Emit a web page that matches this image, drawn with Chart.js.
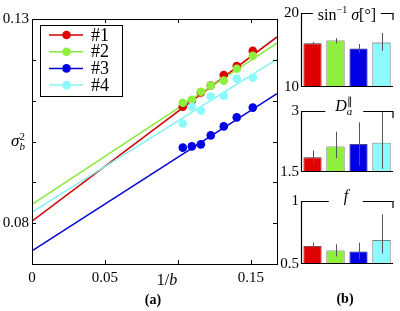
<!DOCTYPE html>
<html>
<head>
<meta charset="utf-8">
<script src="https://cdn.jsdelivr.net/npm/chart.js@4.4.1/dist/chart.umd.min.js"></script>
<style>
  body { margin: 0; background: #fff; width: 400px; height: 311px; overflow: hidden; position: relative; font-family: "Liberation Serif", serif; }
  .box { position: absolute; }
  .lbl { position: absolute; white-space: nowrap; transform: translate(-50%, -50%); line-height: 1; color: #000; }
  .ttl { background: #fff; font-size: 16px; }
  .stack { display: inline-block; vertical-align: middle; line-height: 0.9; font-size: 11px; text-align: left; }
</style>
</head>
<body>
<div class="box" style="left:0;top:0;width:290px;height:311px"><canvas id="main"></canvas></div>
<div class="box" style="left:280px;top:0;width:120px;height:100px"><canvas id="p1"></canvas></div>
<div class="box" style="left:280px;top:100px;width:120px;height:90px"><canvas id="p2"></canvas></div>
<div class="box" style="left:280px;top:190px;width:120px;height:121px"><canvas id="p3"></canvas></div>

<span class="lbl" style="left:18px;top:142px;font-size:17px"><i>σ</i><span class="stack">2<br><i>b</i></span></span>
<span class="lbl" style="left:167px;top:280px;font-size:16px">1/<i>b</i></span>
<span class="lbl" style="left:153px;top:300px;font-size:14px;font-weight:bold">(a)</span>
<span class="lbl" style="left:345px;top:299px;font-size:14px;font-weight:bold">(b)</span>
<span class="lbl ttl" style="left:347px;top:14px;padding:0 5px">sin<sup style="font-size:10px">−1</sup> <i>σ</i>[°]</span>
<span class="lbl ttl" style="left:344px;top:107px;padding:0 10px"><i>D</i><span class="stack">∥<br><i>a</i></span></span>
<span class="lbl ttl" style="left:346px;top:196px;padding:0 15px"><i>f</i></span>

<script>
// main panel: sigma_b^2 vs 1/b
const xVals = [0.1034, 0.1096, 0.1158, 0.1226, 0.1315, 0.1404, 0.1514];
const s1 = [0.1085, 0.1100, 0.1120, 0.1137, 0.1163, 0.1185, 0.1222];
const s2 = [0.1095, 0.1102, 0.1122, 0.1137, 0.1149, 0.1178, 0.1210];
const s3 = [0.0985, 0.0988, 0.0993, 0.1015, 0.1037, 0.1059, 0.1083];
const s4 = [0.1044, 0.1085, 0.1076, 0.1110, 0.1112, 0.1154, 0.1156];

// fitted lines, ends at x = 0 and x = 0.168
const fitX = [0, 0.168];
const fit1 = [0.0805, 0.1256];
const fit2 = [0.0846, 0.1241];
const fit3 = [0.0732, 0.1117];
const fit4 = [0.0827, 0.1202];

const names = ['#1', '#2', '#3', '#4'];
const xTickVals = [0, 0.05, 0.15];
const xTickText = ['0', '0.05', '0.15'];

// right panels
const sinVals = [15.9, 16.3, 15.2, 16.0];
const sinLo = [15.7, 15.9, 14.6, 14.9];
const sinHi = [16.1, 16.6, 15.8, 17.3];

const dVals = [1.86, 2.13, 2.19, 2.22];
const dLo = [1.69, 1.84, 1.65, 1.58];
const dHi = [2.03, 2.49, 2.72, 3.02];

const fVals = [0.643, 0.608, 0.600, 0.690];
const fLo = [0.620, 0.560, 0.536, 0.584];
const fHi = [0.669, 0.657, 0.669, 0.893];

const colors = ['#e00000', '#8ef03c', '#0000e6', '#8cfafa'];
const lineColors = ['#d40000', '#86e83a', '#0000dc', '#86f0f0'];
const font = { family: 'Liberation Serif', size: 15 };

const series = [s1, s2, s3, s4];
const fits = [fit1, fit2, fit3, fit4];

const frame = {
  id: 'frame',
  afterDraw(chart) {
    const { ctx, chartArea: a, scales } = chart;
    ctx.save();
    ctx.strokeStyle = '#000';
    ctx.lineWidth = 1;
    ctx.strokeRect(a.left + 0.5, a.top + 0.5, a.right - a.left, a.bottom - a.top);
    ctx.beginPath();
    [0, 0.05, 0.1, 0.15].forEach(v => {
      const px = Math.round(scales.x.getPixelForValue(v)) + 0.5;
      ctx.moveTo(px, a.bottom); ctx.lineTo(px, a.bottom - 4);
      ctx.moveTo(px, a.top); ctx.lineTo(px, a.top + 4);
    });
    scales.y.ticks.forEach(t => {
      const py = Math.round(scales.y.getPixelForValue(t.value)) + 0.5;
      ctx.moveTo(a.left, py); ctx.lineTo(a.left + 4, py);
      ctx.moveTo(a.right, py); ctx.lineTo(a.right - 4, py);
    });
    ctx.stroke();

    // legend box
    const lx = 40, ly = 25, lw = 82, lh = 71;
    ctx.fillStyle = '#fff';
    ctx.fillRect(lx, ly, lw, lh);
    ctx.strokeRect(lx + 0.5, ly + 0.5, lw, lh);
    ctx.font = '18px "Liberation Serif"';
    ctx.textBaseline = 'middle';
    names.forEach((n, i) => {
      const y = 35 + i * 16.7;
      ctx.strokeStyle = lineColors[i];
      ctx.lineWidth = 1.5;
      ctx.beginPath(); ctx.moveTo(49, y); ctx.lineTo(83, y); ctx.stroke();
      ctx.fillStyle = colors[i];
      ctx.beginPath(); ctx.arc(66.5, y, 4.3, 0, Math.PI * 2); ctx.fill();
      ctx.fillStyle = '#000';
      ctx.fillText(n, 91, y + 1);
    });
    ctx.restore();
  }
};

const datasets = [];
series.forEach((s, i) => {
  datasets.push({
    data: fitX.map((x, j) => ({ x, y: fits[i][j] })),
    showLine: true, borderColor: lineColors[i], borderWidth: 1.5,
    pointRadius: 0, order: 20 - i
  });
});
series.forEach((s, i) => {
  datasets.push({
    data: xVals.map((x, j) => ({ x, y: s[j] })),
    backgroundColor: colors[i], borderColor: colors[i], borderWidth: 0,
    pointRadius: 4.3, order: 10 - i
  });
});

new Chart(document.getElementById('main'), {
  type: 'scatter',
  data: { datasets },
  options: {
    responsive: true, maintainAspectRatio: false, animation: false,
    layout: { padding: { top: 19, right: 13, left: 0, bottom: 0 } },
    plugins: { legend: { display: false }, tooltip: { enabled: false } },
    scales: {
      x: {
        min: 0, max: 0.168,
        afterFit: s => { s.height = 47; },
        afterBuildTicks: s => { s.ticks = xTickVals.map(v => ({ value: v })); },
        grid: { display: false, drawTicks: false }, border: { display: false },
        ticks: {
          color: '#000', font, padding: 5, maxRotation: 0, autoSkip: false,
          callback: v => {
            const i = xTickVals.findIndex(t => Math.abs(t - v) < 1e-9);
            return i >= 0 ? xTickText[i] : '';
          }
        }
      },
      y: {
        min: 0.07, max: 0.13,
        afterFit: s => { s.width = 32; },
        grid: { display: false, drawTicks: false }, border: { display: false },
        ticks: {
          stepSize: 0.01, color: '#000', font, padding: 3,
          callback: v => {
            const k = Math.round(v * 100);
            return k === 13 ? '0.13' : k === 8 ? '0.08' : '';
          }
        }
      }
    }
  },
  plugins: [frame]
});

const panelFrame = {
  id: 'panelFrame',
  afterDraw(chart) {
    const { ctx, chartArea: a, scales } = chart;
    ctx.save();
    // error bars
    const ds = chart.data.datasets[0];
    ctx.beginPath();
    ctx.rect(a.left, a.top, a.right - a.left, a.bottom - a.top);
    ctx.clip();
    ctx.strokeStyle = '#555';
    ctx.lineWidth = 1;
    chart.getDatasetMeta(0).data.forEach((bar, i) => {
      const px = Math.round(bar.x) + 0.5;
      ctx.beginPath();
      ctx.moveTo(px, scales.y.getPixelForValue(ds.lo[i]));
      ctx.lineTo(px, scales.y.getPixelForValue(ds.hi[i]));
      ctx.stroke();
    });
    ctx.restore();
    ctx.save();
    ctx.strokeStyle = '#000';
    ctx.lineWidth = 1.2;
    ctx.beginPath();
    ctx.moveTo(a.right, a.top + 7);
    ctx.lineTo(a.right, a.top + 0.5);
    ctx.lineTo(a.left + 0.5, a.top + 0.5);
    ctx.lineTo(a.left + 0.5, a.bottom - 0.5);
    ctx.lineTo(a.right, a.bottom - 0.5);
    ctx.stroke();
    ctx.restore();
  }
};

function panel(id, vals, lo, hi, min, max, step, top, bottom, labels) {
  new Chart(document.getElementById(id), {
    type: 'bar',
    data: {
      labels: names,
      datasets: [{
        data: vals, lo, hi,
        backgroundColor: colors, borderColor: '#333', borderWidth: 0.8,
        barPercentage: 0.79, categoryPercentage: 1
      }]
    },
    options: {
      responsive: true, maintainAspectRatio: false, animation: false,
      layout: { padding: { top, bottom, right: 7, left: 0 } },
      plugins: { legend: { display: false }, tooltip: { enabled: false } },
      scales: {
        x: { display: false },
        y: {
          min, max,
          afterFit: s => { s.width = 21; },
          grid: { display: false, drawTicks: false }, border: { display: false },
          ticks: {
            stepSize: step, color: '#000', font, padding: 2,
            callback: v => Math.abs(v - min) < 1e-9 ? labels[0] : Math.abs(v - max) < 1e-9 ? labels[1] : ''
          }
        }
      }
    },
    plugins: [panelFrame]
  });
}

panel('p1', sinVals, sinLo, sinHi, 10, 20, 10, 13, 13, ['10', '20']);
panel('p2', dVals, dLo, dHi, 1.5, 3, 1.5, 6, 18, ['1.5', '3']);
panel('p3', fVals, fLo, fHi, 0.5, 1, 0.5, 5, 47, ['0.5', '1']);
</script>
</body>
</html>
